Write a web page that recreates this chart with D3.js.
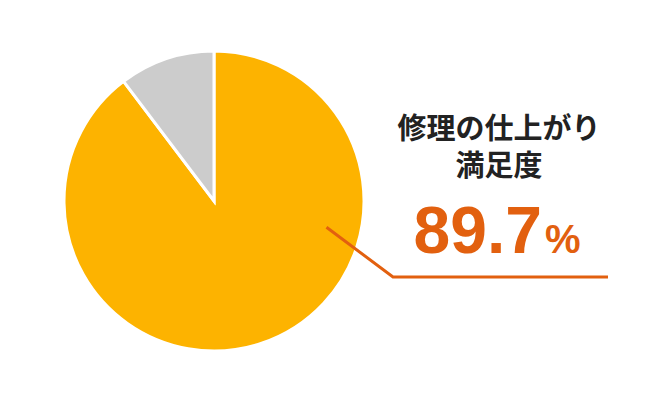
<!DOCTYPE html>
<html>
<head>
<meta charset="utf-8">
<script src="https://d3js.org/d3.v7.min.js"></script>
<style>
  body { margin: 0; background: #fff; }
</style>
</head>
<body>
<div id="chart"></div>
<script>
// データ
let labels = ["満足", "その他"];
let values = [89.7, 10.3];
let colors = ["#FDB300", "#CCCCCC"];
let titleLines = ["修理の仕上がり", "満足度"];
let valueText = "89.7";

let w = 670, h = 402;
let cx = 214, cy = 201, r = 150;

let svg = d3.select("#chart").append("svg")
    .attr("width", w)
    .attr("height", h);

let pie = d3.pie().sort(null).value(d => d);
let arc = d3.arc().innerRadius(0).outerRadius(r);

let g = svg.append("g").attr("transform", "translate(" + cx + "," + cy + ")");

g.selectAll("path")
    .data(pie(values))
    .enter()
    .append("path")
    .attr("d", arc)
    .attr("fill", (d, i) => colors[i])
    .attr("stroke", "#fff")
    .attr("stroke-width", 3);

// 引き出し線
let lineColor = "#E2600F";
// 線の始点: 最初のスライス内側
let p0 = d3.arc().innerRadius(r * 0.77).outerRadius(r * 0.77).startAngle(1.8).endAngle(1.8).centroid();
svg.append("polyline")
    .attr("points", [
        [cx + p0[0], cy + p0[1]],
        [393, 277],
        [608, 277]
    ].map(p => p.join(",")).join(" "))
    .attr("fill", "none")
    .attr("stroke", lineColor)
    .attr("stroke-width", 3);

// タイトル
svg.selectAll(".title")
    .data(titleLines)
    .enter()
    .append("text")
    .attr("class", "title")
    .attr("x", 499)
    .attr("y", (d, i) => 139 + i * 37)
    .attr("text-anchor", "middle")
    .attr("font-family", "'Noto Sans CJK JP', sans-serif")
    .attr("font-weight", "bold")
    .attr("font-size", "29px")
    .attr("fill", "#222")
    .text(d => d);

// 数値
let t = svg.append("text")
    .attr("x", 497)
    .attr("y", 253)
    .attr("text-anchor", "middle")
    .attr("font-family", "'Liberation Sans', Arial, sans-serif")
    .attr("font-weight", "bold")
    .attr("fill", lineColor);
t.append("tspan").attr("font-size", "66px").text(valueText);
t.append("tspan").attr("font-size", "40px").attr("dx", 3).text("%");
</script>
</body>
</html>
